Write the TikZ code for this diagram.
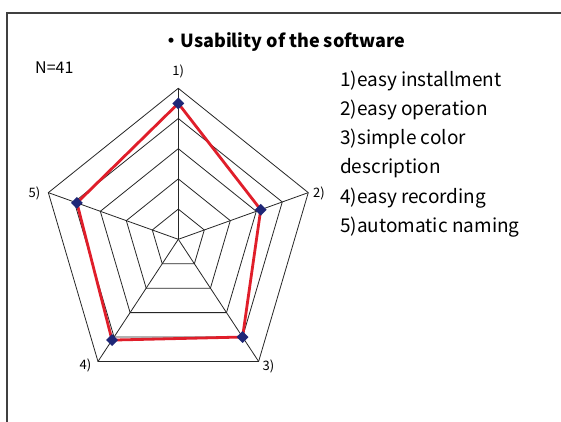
\documentclass[tikz,border=0pt]{standalone}
\usepackage{fontspec}
\setmainfont{Noto Sans CJK JP}
\usetikzlibrary{calc,shapes.geometric}
\definecolor{framegray}{HTML}{404040}
\definecolor{seriesred}{HTML}{E01E2A}
\definecolor{marknavy}{HTML}{1F2777}
\tikzset{
  framebox/.style={draw=framegray,line width=1.4pt},
  gridline/.style={draw=black!85,line width=0.8pt},
  series/.style={draw=seriesred,line width=2.8pt,line join=miter},
  marker/.style={diamond,fill=marknavy,inner sep=0pt,minimum size=12pt},
  axislabel/.style={font=\fontsize{13}{13}\selectfont,inner sep=0pt},
  legend/.style={font=\fontsize{19}{19}\selectfont,anchor=west,inner sep=0pt},
}
\begin{document}
\begin{tikzpicture}[x=1pt,y=-1pt]
\useasboundingbox (0,0) rectangle (561,422);
\fill[white] (0,0) rectangle (561,422);
\draw[framebox] (7,422) -- (7,13) -- (561,13);
\coordinate (C) at (178.3,239.3);
\foreach \i/\a in {1/90,2/18,3/-54,4/-126,5/162}{
  \foreach \k in {1,...,5}{
    \coordinate (r\k v\i) at ($(C)+({0.905*151*\k/5*cos(\a)},{-151*\k/5*sin(\a)})$);
  }
}
\foreach \k in {1,...,5}{
  \draw[gridline] (r\k v1) -- (r\k v2) -- (r\k v3) -- (r\k v4) -- (r\k v5) -- cycle;
}
\foreach \i in {1,...,5}{
  \draw[gridline] (C) -- (r5v\i);
}
% data
\foreach \i/\a/\f in {1/90/0.90,2/18/0.634,3/-54/0.80,4/-126/0.825,5/162/0.78}{
  \coordinate (d\i) at ($(C)+({0.905*151*\f*cos(\a)},{-151*\f*sin(\a)})$);
}
\draw[series] (d1) -- (d2) -- (d3) -- (d4) -- (d5) -- cycle;
\foreach \i in {1,...,5}{
  \node[marker] (m\i) at (d\i) {};
}
% axis labels
\node[axislabel] (l1) at (178.3,71.5) {1)};
\node[axislabel] (l2) at (319,193.5) {2)};
\node[axislabel] (l3) at (268.5,366) {3)};
\node[axislabel] (l4) at (85.5,365) {4)};
\node[axislabel] (l5) at (34.5,193) {5)};
% title
\node[font=\bfseries\fontsize{18}{18}\selectfont,inner sep=0pt] (title) at (284,42) {・Usability of the software};
\node[font=\fontsize{16}{16}\selectfont,anchor=west,inner sep=0pt] (n) at (35,68) {N=41};
% legend
\node[legend] (g1) at (340,81) {1)easy installment};
\node[legend] (g2) at (340,110) {2)easy operation};
\node[legend] (g3) at (340,139) {3)simple color};
\node[legend] (g4) at (340,168) {description};
\node[legend] (g5) at (340,198) {4)easy recording};
\node[legend] (g6) at (340,227) {5)automatic naming};
\end{tikzpicture}
\end{document}
